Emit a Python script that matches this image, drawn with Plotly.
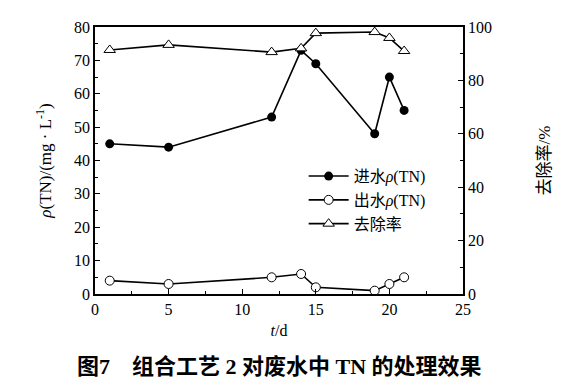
import plotly.graph_objects as go

t = [1, 5, 12, 14, 15, 19, 20, 21]
influent = [45, 44, 53, 73, 69, 48, 65, 55]
effluent = [4, 3, 5, 6, 2, 1, 3, 5]
removal = [91.4, 93.3, 90.6, 92, 97.7, 98.1, 95.9, 91]

serif = "Liberation Serif, Times New Roman, serif"
cjk = "Noto Sans CJK SC"

fig = go.Figure()
line = dict(color="black", width=1.6)
fig.add_trace(go.Scatter(x=t, y=influent, mode="lines+markers", name="进水<i>ρ</i>(TN)",
                         line=line, marker=dict(symbol="circle", size=9, color="black")))
fig.add_trace(go.Scatter(x=t, y=effluent, mode="lines+markers", name="出水<i>ρ</i>(TN)",
                         line=line, marker=dict(symbol="circle", size=9, color="white",
                                                line=dict(color="black", width=1))))
fig.add_trace(go.Scatter(x=t, y=removal, mode="lines+markers", name="去除率", yaxis="y2",
                         line=line, marker=dict(symbol="triangle-up", size=10, color="white",
                                                line=dict(color="black", width=1))))

axis_common = dict(showline=True, linecolor="black", linewidth=1.5, ticks="inside",
                   ticklen=5, tickcolor="black", tickwidth=1.2, showgrid=False, zeroline=False,
                   tickfont=dict(family=serif, size=16, color="black"))

fig.update_layout(
    width=567, height=379,
    margin=dict(l=87, r=112, t=19, b=93),
    paper_bgcolor="white", plot_bgcolor="white",
    font=dict(family=serif, size=16, color="black"),
    showlegend=True,
    legend=dict(x=0.567, y=0.505, xanchor="left", yanchor="top", bgcolor="rgba(0,0,0,0)",
                font=dict(family=serif + ", " + cjk, size=16, color="black"),
                tracegroupgap=0, itemwidth=40),
    xaxis=dict(range=[0, 25], dtick=5, mirror=True,
               minor=dict(dtick=2.5, ticks="inside", ticklen=3, tickcolor="black"),
               title=dict(text="<i>t</i>/d", font=dict(family=serif, size=16, color="black"), standoff=8),
               **axis_common),
    yaxis=dict(range=[0, 80], dtick=10,
               minor=dict(dtick=5, ticks="inside", ticklen=3, tickcolor="black"),
               title=dict(text="<i>ρ</i>(TN)/(mg · L<sup>-1</sup>)", font=dict(family=serif, size=17, color="black"), standoff=18),
               **axis_common),
    yaxis2=dict(range=[0, 100], dtick=20, overlaying="y", side="right",
                minor=dict(dtick=10, ticks="inside", ticklen=3, tickcolor="black"),
                title=dict(text="去除率/%", font=dict(family=serif + ", " + cjk, size=17, color="black"), standoff=47),
                **axis_common),
    annotations=[dict(text="<b>图7　组合工艺 2 对废水中 TN 的处理效果</b>", xref="paper", yref="paper",
                      x=-0.055, y=-0.273, xanchor="left", yanchor="middle", showarrow=False,
                      font=dict(family=serif + ", " + cjk, size=22, color="black"))],
)

fig.write_html("out.html")
